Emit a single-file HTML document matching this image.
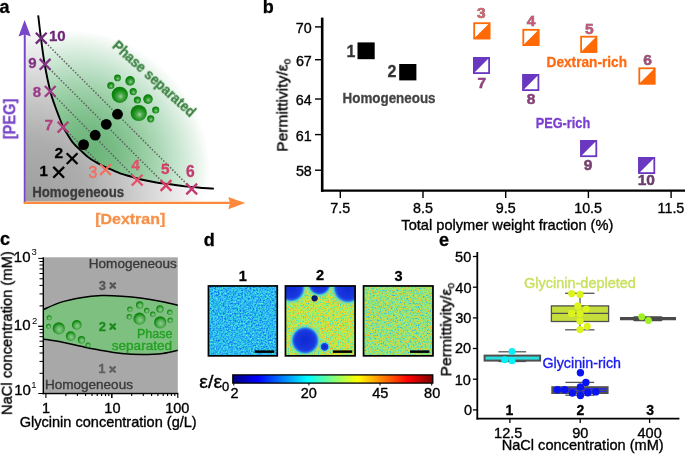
<!DOCTYPE html>
<html><head><meta charset="utf-8"><style>
html,body{margin:0;padding:0;background:#fff;width:685px;height:454px;overflow:hidden}
svg{display:block;font-family:"Liberation Sans", sans-serif}
text{will-change:transform}
</style></head><body>
<svg width="685" height="454" viewBox="0 0 685 454">
<defs>
<radialGradient id="gA" cx="25" cy="203" r="190" gradientUnits="userSpaceOnUse"><stop offset="0" stop-color="#9c9c9c"/><stop offset="0.12" stop-color="#a3a3a3"/><stop offset="0.33" stop-color="#adadad"/><stop offset="0.52" stop-color="#c4c4c4"/><stop offset="0.84" stop-color="#f0f0f0"/><stop offset="0.95" stop-color="#ffffff"/></radialGradient>
<radialGradient id="gG" cx="0" cy="0" r="1" gradientUnits="userSpaceOnUse" gradientTransform="translate(90,150) rotate(-45) scale(110,130)"><stop offset="0" stop-color="#69b478"/><stop offset="0.2" stop-color="#76bb84"/><stop offset="0.3" stop-color="#82c28f"/><stop offset="0.4" stop-color="#8fc99b"/><stop offset="0.5" stop-color="#9ed1a8"/><stop offset="0.6" stop-color="#afd9b9"/><stop offset="0.7" stop-color="#c1e2cb"/><stop offset="0.8" stop-color="#d4ebda"/><stop offset="0.9" stop-color="#e9f4eb"/><stop offset="1" stop-color="#ffffff"/></radialGradient>
<radialGradient id="bub" cx="0.55" cy="0.6" r="0.6" fx="0.55" fy="0.6"><stop offset="0" stop-color="#9ed09e"/><stop offset="0.3" stop-color="#4aa64a"/><stop offset="0.7" stop-color="#108a10"/><stop offset="1" stop-color="#0a7a0a"/></radialGradient>
<radialGradient id="bubc" cx="0.55" cy="0.6" r="0.62" fx="0.55" fy="0.6"><stop offset="0" stop-color="#8ccc8c"/><stop offset="0.45" stop-color="#5ab05a"/><stop offset="0.8" stop-color="#148a14"/><stop offset="1" stop-color="#0a7d0a"/></radialGradient>
<linearGradient id="jet" x1="0" x2="1" y1="0" y2="0"><stop offset="0" stop-color="#00007f"/><stop offset="0.125" stop-color="#0000ff"/><stop offset="0.375" stop-color="#00ffff"/><stop offset="0.625" stop-color="#ffff00"/><stop offset="0.875" stop-color="#ff0000"/><stop offset="1" stop-color="#7f0000"/></linearGradient>
<radialGradient id="blob" cx="0.5" cy="0.5" r="0.5"><stop offset="0" stop-color="#1028d0"/><stop offset="0.7" stop-color="#1838e0"/><stop offset="0.84" stop-color="#2860e8"/><stop offset="0.92" stop-color="#30a8e8" stop-opacity="0.85"/><stop offset="1" stop-color="#40c8e0" stop-opacity="0"/></radialGradient>
<radialGradient id="halo" cx="0.5" cy="0.5" r="0.5"><stop offset="0.6" stop-color="#38c8e8" stop-opacity="0.9"/><stop offset="0.8" stop-color="#50d8d0" stop-opacity="0.6"/><stop offset="1" stop-color="#60e0c0" stop-opacity="0"/></radialGradient>
<clipPath id="clipA"><rect x="25.7" y="5" width="215" height="196.6"/></clipPath>
<clipPath id="clipD2"><rect x="285.5" y="286" width="70" height="70"/></clipPath>
<clipPath id="clipC"><rect x="44" y="257.3" width="133.8" height="135.5"/></clipPath>
<filter id="n1" x="0" y="0" width="1" height="1" color-interpolation-filters="sRGB"><feTurbulence type="fractalNoise" baseFrequency="0.60" numOctaves="2" seed="2" result="n"/><feColorMatrix in="n" type="matrix" values="1 0 0 0 0  1 0 0 0 0  1 0 0 0 0  0 0 0 0 1"/><feComponentTransfer><feFuncR type="linear" slope="1.80" intercept="-0.400"/><feFuncG type="linear" slope="1.80" intercept="-0.400"/><feFuncB type="linear" slope="1.80" intercept="-0.400"/></feComponentTransfer><feComponentTransfer><feFuncR type="table" tableValues="0.059 0.118 0.176 0.235 0.353"/><feFuncG type="table" tableValues="0.431 0.588 0.725 0.843 0.922"/><feFuncB type="table" tableValues="0.941 0.949 0.933 0.894 0.824"/><feFuncA type="table" tableValues="1 1"/></feComponentTransfer></filter>
<filter id="n2" x="0" y="0" width="1" height="1" color-interpolation-filters="sRGB"><feTurbulence type="fractalNoise" baseFrequency="0.60" numOctaves="2" seed="5" result="n"/><feColorMatrix in="n" type="matrix" values="1 0 0 0 0  1 0 0 0 0  1 0 0 0 0  0 0 0 0 1"/><feComponentTransfer><feFuncR type="linear" slope="1.80" intercept="-0.400"/><feFuncG type="linear" slope="1.80" intercept="-0.400"/><feFuncB type="linear" slope="1.80" intercept="-0.400"/></feComponentTransfer><feComponentTransfer><feFuncR type="table" tableValues="0.275 0.471 0.745 0.910 0.922"/><feFuncG type="table" tableValues="0.843 0.922 0.933 0.843 0.627"/><feFuncB type="table" tableValues="0.765 0.549 0.294 0.216 0.176"/><feFuncA type="table" tableValues="1 1"/></feComponentTransfer></filter>
<filter id="n3" x="0" y="0" width="1" height="1" color-interpolation-filters="sRGB"><feTurbulence type="fractalNoise" baseFrequency="0.60" numOctaves="2" seed="7" result="n"/><feColorMatrix in="n" type="matrix" values="1 0 0 0 0  1 0 0 0 0  1 0 0 0 0  0 0 0 0 1"/><feComponentTransfer><feFuncR type="linear" slope="1.80" intercept="-0.400"/><feFuncG type="linear" slope="1.80" intercept="-0.400"/><feFuncB type="linear" slope="1.80" intercept="-0.400"/></feComponentTransfer><feComponentTransfer><feFuncR type="table" tableValues="0.235 0.392 0.588 0.824 0.902"/><feFuncG type="table" tableValues="0.706 0.863 0.910 0.871 0.647"/><feFuncB type="table" tableValues="0.863 0.667 0.463 0.275 0.196"/><feFuncA type="table" tableValues="1 1"/></feComponentTransfer></filter>
</defs>
<g clip-path="url(#clipA)">
<rect x="25" y="5" width="220" height="200" fill="url(#gA)"/>
<path d="M38.20,15.30 C38.63,18.92 39.73,28.88 40.80,37.00 C41.87,45.12 43.03,55.00 44.60,64.00 C46.17,73.00 48.47,84.00 50.20,91.00 C51.93,98.00 53.45,101.50 55.00,106.00 C56.55,110.50 58.17,114.58 59.50,118.00 C60.83,121.42 61.92,124.17 63.00,126.50 C64.08,128.83 64.38,129.35 66.00,132.00 C67.62,134.65 69.97,139.07 72.70,142.40 C75.43,145.73 79.52,149.30 82.40,152.00 C85.28,154.70 87.07,156.52 90.00,158.60 C92.93,160.68 97.00,162.88 100.00,164.50 C103.00,166.12 104.67,166.83 108.00,168.30 C111.33,169.77 116.17,171.92 120.00,173.30 C123.83,174.68 127.67,175.62 131.00,176.60 C134.33,177.58 136.00,178.27 140.00,179.20 C144.00,180.13 150.00,181.35 155.00,182.20 C160.00,183.05 165.00,183.60 170.00,184.30 C175.00,185.00 180.00,185.83 185.00,186.40 C190.00,186.97 195.18,187.33 200.00,187.70 C204.82,188.07 211.58,188.45 213.90,188.60 L240,188.6 L240,0 L38.2,0 Z" fill="url(#gG)"/>
</g>
<line x1="41.2" y1="38.2" x2="191.7" y2="189.0" stroke="#606060" stroke-width="1.5" stroke-dasharray="1.5 1.7"/>
<line x1="45.1" y1="64.3" x2="166.0" y2="185.5" stroke="#606060" stroke-width="1.5" stroke-dasharray="1.5 1.7"/>
<line x1="50.2" y1="91.3" x2="137.2" y2="180.1" stroke="#606060" stroke-width="1.5" stroke-dasharray="1.5 1.7"/>
<line x1="63.0" y1="127.2" x2="105.5" y2="169.6" stroke="#606060" stroke-width="1.5" stroke-dasharray="1.5 1.7"/>
<path d="M38.20,15.30 C38.63,18.92 39.73,28.88 40.80,37.00 C41.87,45.12 43.03,55.00 44.60,64.00 C46.17,73.00 48.47,84.00 50.20,91.00 C51.93,98.00 53.45,101.50 55.00,106.00 C56.55,110.50 58.17,114.58 59.50,118.00 C60.83,121.42 61.92,124.17 63.00,126.50 C64.08,128.83 64.38,129.35 66.00,132.00 C67.62,134.65 69.97,139.07 72.70,142.40 C75.43,145.73 79.52,149.30 82.40,152.00 C85.28,154.70 87.07,156.52 90.00,158.60 C92.93,160.68 97.00,162.88 100.00,164.50 C103.00,166.12 104.67,166.83 108.00,168.30 C111.33,169.77 116.17,171.92 120.00,173.30 C123.83,174.68 127.67,175.62 131.00,176.60 C134.33,177.58 136.00,178.27 140.00,179.20 C144.00,180.13 150.00,181.35 155.00,182.20 C160.00,183.05 165.00,183.60 170.00,184.30 C175.00,185.00 180.00,185.83 185.00,186.40 C190.00,186.97 195.18,187.33 200.00,187.70 C204.82,188.07 211.58,188.45 213.90,188.60" fill="none" stroke="#000" stroke-width="1.9"/>
<circle cx="83.6" cy="144.6" r="5.4" fill="#000"/>
<circle cx="95.2" cy="135.2" r="5.4" fill="#000"/>
<circle cx="106.3" cy="124.3" r="5.4" fill="#000"/>
<circle cx="117.5" cy="114.2" r="5.4" fill="#000"/>
<circle cx="117.5" cy="77.9" r="3.4" fill="url(#bub)"/>
<circle cx="130.1" cy="80.9" r="4.8" fill="url(#bub)"/>
<circle cx="110.8" cy="85.5" r="3.6" fill="url(#bub)"/>
<circle cx="119.8" cy="94.8" r="8.1" fill="url(#bub)"/>
<circle cx="133.2" cy="91.6" r="3.6" fill="url(#bub)"/>
<circle cx="137.4" cy="100.0" r="3.6" fill="url(#bub)"/>
<circle cx="148.0" cy="99.1" r="4.8" fill="url(#bub)"/>
<circle cx="138.7" cy="113.0" r="8.1" fill="url(#bub)"/>
<circle cx="155.7" cy="110.0" r="3.6" fill="url(#bub)"/>
<circle cx="150.7" cy="118.8" r="3.6" fill="url(#bub)"/>
<path d="M35.85,32.80 L46.65,43.60 M35.85,43.60 L46.65,32.80" stroke="#6e2a78" stroke-width="2.3" fill="none"/>
<path d="M39.70,58.90 L50.50,69.70 M39.70,69.70 L50.50,58.90" stroke="#823284" stroke-width="2.3" fill="none"/>
<path d="M44.85,85.95 L55.65,96.75 M44.85,96.75 L55.65,85.95" stroke="#9a3a88" stroke-width="2.3" fill="none"/>
<path d="M57.60,121.80 L68.40,132.60 M57.60,132.60 L68.40,121.80" stroke="#b0407e" stroke-width="2.3" fill="none"/>
<path d="M100.10,164.20 L110.90,175.00 M100.10,175.00 L110.90,164.20" stroke="#f07060" stroke-width="2.3" fill="none"/>
<path d="M131.80,174.70 L142.60,185.50 M131.80,185.50 L142.60,174.70" stroke="#e2506a" stroke-width="2.3" fill="none"/>
<path d="M160.60,180.10 L171.40,190.90 M160.60,190.90 L171.40,180.10" stroke="#d83c66" stroke-width="2.3" fill="none"/>
<path d="M186.30,183.60 L197.10,194.40 M186.30,194.40 L197.10,183.60" stroke="#c23a72" stroke-width="2.3" fill="none"/>
<path d="M53.30,166.90 L64.10,177.70 M53.30,177.70 L64.10,166.90" stroke="#000" stroke-width="2.3" fill="none"/>
<path d="M66.70,153.20 L77.50,164.00 M66.70,164.00 L77.50,153.20" stroke="#000" stroke-width="2.3" fill="none"/>
<line x1="24.75" y1="203" x2="24.75" y2="33" stroke="#7846c8" stroke-width="2"/>
<path d="M24.6,20 L30.8,36.4 L24.7,34.3 L18.5,36.4 Z" fill="#7846c8"/>
<line x1="23.8" y1="202.8" x2="231" y2="202.8" stroke="#ff8a3d" stroke-width="2.2"/>
<path d="M245.2,203 L228.3,196.9 L230,203 L228.3,209.2 Z" fill="#ff8a3d"/>
<line x1="322.2" y1="17.6" x2="322.2" y2="191.8" stroke="#000" stroke-width="2.6"/>
<line x1="321" y1="190.6" x2="685" y2="190.6" stroke="#000" stroke-width="2.4"/>
<line x1="315" y1="26.9" x2="321" y2="26.9" stroke="#000" stroke-width="1.4"/>
<line x1="315" y1="59.7" x2="321" y2="59.7" stroke="#000" stroke-width="1.4"/>
<line x1="315" y1="99.0" x2="321" y2="99.0" stroke="#000" stroke-width="1.4"/>
<line x1="315" y1="134.6" x2="321" y2="134.6" stroke="#000" stroke-width="1.4"/>
<line x1="315" y1="170.2" x2="321" y2="170.2" stroke="#000" stroke-width="1.4"/>
<line x1="340.3" y1="191" x2="340.3" y2="198" stroke="#000" stroke-width="1.4"/>
<line x1="423.0" y1="191" x2="423.0" y2="198" stroke="#000" stroke-width="1.4"/>
<line x1="505.7" y1="191" x2="505.7" y2="198" stroke="#000" stroke-width="1.4"/>
<line x1="588.4" y1="191" x2="588.4" y2="198" stroke="#000" stroke-width="1.4"/>
<line x1="671.1" y1="191" x2="671.1" y2="198" stroke="#000" stroke-width="1.4"/>
<rect x="357.5" y="42.4" width="17.2" height="16.8" fill="#000"/>
<rect x="399.2" y="64" width="17.2" height="16.4" fill="#000"/>
<rect x="474.2" y="23.2" width="15.2" height="15.2" fill="#fff" stroke="#ff6a06" stroke-width="1.8"/><path d="M473.3,39.3 L490.3,22.3 L490.3,39.3 Z" fill="#ff6a06"/>
<rect x="523.3" y="29.8" width="15.2" height="15.2" fill="#fff" stroke="#ff6a06" stroke-width="1.8"/><path d="M522.4,45.9 L539.4,28.9 L539.4,45.9 Z" fill="#ff6a06"/>
<rect x="581.1" y="36.7" width="15.2" height="15.2" fill="#fff" stroke="#ff6a06" stroke-width="1.8"/><path d="M580.2,52.8 L597.2,35.8 L597.2,52.8 Z" fill="#ff6a06"/>
<rect x="639.3" y="68.3" width="15.2" height="15.2" fill="#fff" stroke="#ff6a06" stroke-width="1.8"/><path d="M638.4,84.4 L655.4,67.4 L655.4,84.4 Z" fill="#ff6a06"/>
<rect x="473.9" y="57.9" width="15.2" height="15.2" fill="#fff" stroke="#6a38c0" stroke-width="1.8"/><path d="M473.0,57.0 L490.0,57.0 L473.0,74.0 Z" fill="#6a38c0"/>
<rect x="523.2" y="74.9" width="15.2" height="15.2" fill="#fff" stroke="#6a38c0" stroke-width="1.8"/><path d="M522.3,74.0 L539.3,74.0 L522.3,91.0 Z" fill="#6a38c0"/>
<rect x="581.1" y="141.0" width="15.2" height="15.2" fill="#fff" stroke="#6a38c0" stroke-width="1.8"/><path d="M580.2,140.1 L597.2,140.1 L580.2,157.1 Z" fill="#6a38c0"/>
<rect x="639.1" y="157.9" width="15.2" height="15.2" fill="#fff" stroke="#6a38c0" stroke-width="1.8"/><path d="M638.2,157.0 L655.2,157.0 L638.2,174.0 Z" fill="#6a38c0"/>
<rect x="44" y="257.3" width="133.8" height="135.5" fill="#a8a8a8"/>
<g clip-path="url(#clipC)">
<path d="M43.00,309.80 C45.90,308.57 54.08,304.42 60.40,302.40 C66.72,300.38 74.08,298.83 80.90,297.70 C87.72,296.57 94.50,295.85 101.30,295.60 C108.10,295.35 114.88,295.75 121.70,296.20 C128.52,296.65 135.38,297.37 142.20,298.30 C149.02,299.23 156.47,300.58 162.60,301.80 C168.73,303.02 176.27,304.97 179.00,305.60 L179.00,350.00 C176.27,350.58 168.73,352.75 162.60,353.50 C156.47,354.25 149.02,354.50 142.20,354.50 C135.38,354.50 128.52,354.18 121.70,353.50 C114.88,352.82 108.10,351.60 101.30,350.40 C94.50,349.20 87.72,347.73 80.90,346.30 C74.08,344.87 66.72,343.02 60.40,341.80 C54.08,340.58 45.90,339.47 43.00,339.00 Z" fill="#7ec07f"/>
<path d="M43.00,309.80 C45.90,308.57 54.08,304.42 60.40,302.40 C66.72,300.38 74.08,298.83 80.90,297.70 C87.72,296.57 94.50,295.85 101.30,295.60 C108.10,295.35 114.88,295.75 121.70,296.20 C128.52,296.65 135.38,297.37 142.20,298.30 C149.02,299.23 156.47,300.58 162.60,301.80 C168.73,303.02 176.27,304.97 179.00,305.60" fill="none" stroke="#000" stroke-width="1.5"/>
<path d="M179.00,350.00 C176.27,350.58 168.73,352.75 162.60,353.50 C156.47,354.25 149.02,354.50 142.20,354.50 C135.38,354.50 128.52,354.18 121.70,353.50 C114.88,352.82 108.10,351.60 101.30,350.40 C94.50,349.20 87.72,347.73 80.90,346.30 C74.08,344.87 66.72,343.02 60.40,341.80 C54.08,340.58 45.90,339.47 43.00,339.00" fill="none" stroke="#000" stroke-width="1.5"/>
</g>
<circle cx="49.2" cy="317.7" r="2.5" fill="url(#bubc)"/>
<circle cx="48.6" cy="326.3" r="2.5" fill="url(#bubc)"/>
<circle cx="58.8" cy="328.3" r="6.1" fill="url(#bubc)"/>
<circle cx="76.8" cy="324.9" r="4.9" fill="url(#bubc)"/>
<circle cx="70.7" cy="336.1" r="4.9" fill="url(#bubc)"/>
<circle cx="81.5" cy="339.8" r="3.7" fill="url(#bubc)"/>
<circle cx="88.0" cy="344.9" r="2.5" fill="url(#bubc)"/>
<circle cx="139.7" cy="305.0" r="3.7" fill="url(#bubc)"/>
<circle cx="129.9" cy="309.1" r="2.7" fill="url(#bubc)"/>
<circle cx="146.7" cy="310.5" r="2.7" fill="url(#bubc)"/>
<circle cx="160.0" cy="308.9" r="3.7" fill="url(#bubc)"/>
<circle cx="169.8" cy="312.2" r="2.7" fill="url(#bubc)"/>
<circle cx="152.8" cy="314.2" r="2.7" fill="url(#bubc)"/>
<circle cx="129.3" cy="316.7" r="2.7" fill="url(#bubc)"/>
<circle cx="139.5" cy="318.7" r="6.1" fill="url(#bubc)"/>
<circle cx="160.2" cy="322.4" r="6.1" fill="url(#bubc)"/>
<circle cx="170.2" cy="320.2" r="2.7" fill="url(#bubc)"/>
<line x1="43.3" y1="257.3" x2="43.3" y2="394.3" stroke="#000" stroke-width="1.4"/>
<line x1="42.6" y1="393.5" x2="178.3" y2="393.5" stroke="#000" stroke-width="1.6"/>
<line x1="38.3" y1="393.5" x2="43.3" y2="393.5" stroke="#000" stroke-width="1"/>
<line x1="39.5" y1="373.3" x2="43.3" y2="373.3" stroke="#000" stroke-width="1"/>
<line x1="39.5" y1="361.4" x2="43.3" y2="361.4" stroke="#000" stroke-width="1"/>
<line x1="39.5" y1="353.0" x2="43.3" y2="353.0" stroke="#000" stroke-width="1"/>
<line x1="39.5" y1="346.5" x2="43.3" y2="346.5" stroke="#000" stroke-width="1"/>
<line x1="39.5" y1="341.2" x2="43.3" y2="341.2" stroke="#000" stroke-width="1"/>
<line x1="39.5" y1="336.7" x2="43.3" y2="336.7" stroke="#000" stroke-width="1"/>
<line x1="39.5" y1="332.8" x2="43.3" y2="332.8" stroke="#000" stroke-width="1"/>
<line x1="39.5" y1="329.4" x2="43.3" y2="329.4" stroke="#000" stroke-width="1"/>
<line x1="38.3" y1="326.3" x2="43.3" y2="326.3" stroke="#000" stroke-width="1"/>
<line x1="38.3" y1="326.3" x2="43.3" y2="326.3" stroke="#000" stroke-width="1"/>
<line x1="39.5" y1="305.9" x2="43.3" y2="305.9" stroke="#000" stroke-width="1"/>
<line x1="39.5" y1="293.9" x2="43.3" y2="293.9" stroke="#000" stroke-width="1"/>
<line x1="39.5" y1="285.4" x2="43.3" y2="285.4" stroke="#000" stroke-width="1"/>
<line x1="39.5" y1="278.8" x2="43.3" y2="278.8" stroke="#000" stroke-width="1"/>
<line x1="39.5" y1="273.5" x2="43.3" y2="273.5" stroke="#000" stroke-width="1"/>
<line x1="39.5" y1="268.9" x2="43.3" y2="268.9" stroke="#000" stroke-width="1"/>
<line x1="39.5" y1="265.0" x2="43.3" y2="265.0" stroke="#000" stroke-width="1"/>
<line x1="39.5" y1="261.5" x2="43.3" y2="261.5" stroke="#000" stroke-width="1"/>
<line x1="38.3" y1="258.4" x2="43.3" y2="258.4" stroke="#000" stroke-width="1"/>
<line x1="45.9" y1="393.5" x2="45.9" y2="398.0" stroke="#000" stroke-width="1.1"/>
<line x1="65.8" y1="393.5" x2="65.8" y2="396.1" stroke="#000" stroke-width="1.1"/>
<line x1="77.4" y1="393.5" x2="77.4" y2="396.1" stroke="#000" stroke-width="1.1"/>
<line x1="85.6" y1="393.5" x2="85.6" y2="396.1" stroke="#000" stroke-width="1.1"/>
<line x1="92.0" y1="393.5" x2="92.0" y2="396.1" stroke="#000" stroke-width="1.1"/>
<line x1="97.2" y1="393.5" x2="97.2" y2="396.1" stroke="#000" stroke-width="1.1"/>
<line x1="101.6" y1="393.5" x2="101.6" y2="396.1" stroke="#000" stroke-width="1.1"/>
<line x1="105.5" y1="393.5" x2="105.5" y2="396.1" stroke="#000" stroke-width="1.1"/>
<line x1="108.8" y1="393.5" x2="108.8" y2="396.1" stroke="#000" stroke-width="1.1"/>
<line x1="111.8" y1="393.5" x2="111.8" y2="398.0" stroke="#000" stroke-width="1.1"/>
<line x1="111.8" y1="393.5" x2="111.8" y2="398.0" stroke="#000" stroke-width="1.1"/>
<line x1="131.7" y1="393.5" x2="131.7" y2="396.1" stroke="#000" stroke-width="1.1"/>
<line x1="143.3" y1="393.5" x2="143.3" y2="396.1" stroke="#000" stroke-width="1.1"/>
<line x1="151.6" y1="393.5" x2="151.6" y2="396.1" stroke="#000" stroke-width="1.1"/>
<line x1="157.9" y1="393.5" x2="157.9" y2="396.1" stroke="#000" stroke-width="1.1"/>
<line x1="163.2" y1="393.5" x2="163.2" y2="396.1" stroke="#000" stroke-width="1.1"/>
<line x1="167.6" y1="393.5" x2="167.6" y2="396.1" stroke="#000" stroke-width="1.1"/>
<line x1="171.4" y1="393.5" x2="171.4" y2="396.1" stroke="#000" stroke-width="1.1"/>
<line x1="174.8" y1="393.5" x2="174.8" y2="396.1" stroke="#000" stroke-width="1.1"/>
<line x1="177.8" y1="393.5" x2="177.8" y2="398.0" stroke="#000" stroke-width="1.1"/>
<path d="M110.5,283.2 L115.0,287.8 M110.5,287.8 L115.0,283.2" stroke="#555" stroke-width="2.3" stroke-linecap="round"/>
<path d="M110.5,324.3 L115.0,328.9 M110.5,328.9 L115.0,324.3" stroke="#1a8a1a" stroke-width="2.3" stroke-linecap="round"/>
<path d="M110.3,367.1 L114.9,371.7 M110.3,371.7 L114.9,367.1" stroke="#606060" stroke-width="2.3" stroke-linecap="round"/>
<rect x="208.3" y="286" width="69.2" height="70" filter="url(#n1)"/>
<rect x="285.5" y="286" width="70" height="70" filter="url(#n2)"/>
<rect x="363.4" y="286" width="70" height="70" filter="url(#n3)"/>
<g clip-path="url(#clipD2)">
<circle cx="291.0" cy="288.0" r="17.0" fill="url(#halo)"/>
<circle cx="319.4" cy="283.9" r="14.5" fill="url(#halo)"/>
<circle cx="348.0" cy="288.2" r="18.0" fill="url(#halo)"/>
<circle cx="305.2" cy="340.4" r="17.0" fill="url(#halo)"/>
<circle cx="324.6" cy="346.8" r="6.1" fill="url(#halo)"/>
<circle cx="291.0" cy="288.0" r="14.0" fill="url(#blob)"/>
<circle cx="319.4" cy="283.9" r="11.5" fill="url(#blob)"/>
<circle cx="348.0" cy="288.2" r="15.0" fill="url(#blob)"/>
<circle cx="305.2" cy="340.4" r="14.0" fill="url(#blob)"/>
<circle cx="324.6" cy="346.8" r="4.3" fill="url(#blob)"/>
<circle cx="314.6" cy="298.3" r="3.1" fill="#0a1870"/>
</g>
<rect x="208.45" y="285.95" width="68.80" height="69.90" fill="none" stroke="#000" stroke-width="1.7"/>
<rect x="285.45" y="285.95" width="69.60" height="69.90" fill="none" stroke="#000" stroke-width="1.7"/>
<rect x="363.55" y="285.95" width="69.40" height="69.90" fill="none" stroke="#000" stroke-width="1.7"/>
<rect x="254.7" y="350.4" width="19.5" height="2.5" fill="#000"/>
<rect x="332.9" y="350.4" width="19.3" height="2.5" fill="#000"/>
<rect x="410.0" y="350.4" width="19.4" height="2.5" fill="#000"/>
<rect x="232.8" y="374.9" width="200" height="8.2" fill="url(#jet)" stroke="#000" stroke-width="1.3"/>
<line x1="233.8" y1="383" x2="233.8" y2="385.5" stroke="#000" stroke-width="1"/>
<line x1="308.9" y1="383" x2="308.9" y2="385.5" stroke="#000" stroke-width="1"/>
<line x1="380.0" y1="383" x2="380.0" y2="385.5" stroke="#000" stroke-width="1"/>
<line x1="431.7" y1="383" x2="431.7" y2="385.5" stroke="#000" stroke-width="1"/>
<line x1="477.3" y1="252" x2="477.3" y2="419.5" stroke="#000" stroke-width="1.8"/>
<line x1="476.5" y1="418.7" x2="679.4" y2="418.7" stroke="#000" stroke-width="1.8"/>
<line x1="472.9" y1="409.9" x2="477" y2="409.9" stroke="#000" stroke-width="1.3"/>
<line x1="472.9" y1="379.2" x2="477" y2="379.2" stroke="#000" stroke-width="1.3"/>
<line x1="472.9" y1="348.5" x2="477" y2="348.5" stroke="#000" stroke-width="1.3"/>
<line x1="472.9" y1="317.9" x2="477" y2="317.9" stroke="#000" stroke-width="1.3"/>
<line x1="472.9" y1="287.2" x2="477" y2="287.2" stroke="#000" stroke-width="1.3"/>
<line x1="472.9" y1="256.5" x2="477" y2="256.5" stroke="#000" stroke-width="1.3"/>
<line x1="509.9" y1="419" x2="509.9" y2="423" stroke="#000" stroke-width="1.3"/>
<line x1="580.2" y1="419" x2="580.2" y2="423" stroke="#000" stroke-width="1.3"/>
<line x1="649.6" y1="419" x2="649.6" y2="423" stroke="#000" stroke-width="1.3"/>
<line x1="498.4" y1="351.8" x2="526.1" y2="351.8" stroke="#555" stroke-width="1.3"/>
<line x1="498.4" y1="361.5" x2="526.1" y2="361.5" stroke="#555" stroke-width="1.3"/>
<rect x="484.6" y="355.6" width="55.5" height="5" fill="#28e0e0" stroke="#505050" stroke-width="2"/>
<circle cx="512.0" cy="351.4" r="3.5" fill="#08f0f8"/>
<circle cx="504.7" cy="359.7" r="3.5" fill="#08f0f8"/>
<circle cx="512.0" cy="360.7" r="3.5" fill="#08f0f8"/>
<line x1="565.1" y1="293.3" x2="594.5" y2="293.3" stroke="#555" stroke-width="1.3"/>
<line x1="565.1" y1="329.8" x2="594.5" y2="329.8" stroke="#555" stroke-width="1.3"/>
<line x1="580" y1="293.3" x2="580" y2="329.8" stroke="#555" stroke-width="1.3"/>
<rect x="551.4" y="305.9" width="57.2" height="15.6" fill="#c6de3c" stroke="#505050" stroke-width="1.3"/>
<line x1="551.4" y1="313.4" x2="608.6" y2="313.4" stroke="#505050" stroke-width="1.3"/>
<circle cx="571.7" cy="293.6" r="3.6" fill="#dcf41c"/>
<circle cx="580.0" cy="294.4" r="3.6" fill="#dcf41c"/>
<circle cx="577.8" cy="305.9" r="3.6" fill="#dcf41c"/>
<circle cx="586.3" cy="309.0" r="3.6" fill="#dcf41c"/>
<circle cx="571.7" cy="313.4" r="3.6" fill="#dcf41c"/>
<circle cx="580.0" cy="313.4" r="3.6" fill="#dcf41c"/>
<circle cx="580.0" cy="321.1" r="3.6" fill="#dcf41c"/>
<circle cx="587.2" cy="326.3" r="3.6" fill="#dcf41c"/>
<circle cx="580.0" cy="329.6" r="3.6" fill="#dcf41c"/>
<line x1="620" y1="318.7" x2="676" y2="318.7" stroke="#4a4a4a" stroke-width="3.2"/>
<rect x="633.3" y="316.2" width="29" height="5" rx="1" fill="#4a4a4a"/>
<circle cx="641.7" cy="316.7" r="3.5" fill="#a0f028"/>
<circle cx="648.4" cy="320.6" r="3.5" fill="#a0f028"/>
<line x1="565.4" y1="382.4" x2="594.2" y2="382.4" stroke="#555" stroke-width="1.3"/>
<line x1="565.4" y1="395.2" x2="594.2" y2="395.2" stroke="#555" stroke-width="1.3"/>
<rect x="552.3" y="387.2" width="55.3" height="5.8" fill="#2a2ae0" stroke="#505050" stroke-width="2"/>
<line x1="552.3" y1="390.3" x2="607.6" y2="390.3" stroke="#505050" stroke-width="1.2"/>
<circle cx="580.4" cy="372.8" r="3.7" fill="#0a14f0"/>
<circle cx="585.9" cy="382.4" r="3.7" fill="#0a14f0"/>
<circle cx="580.4" cy="387.0" r="3.7" fill="#0a14f0"/>
<circle cx="557.4" cy="389.8" r="3.7" fill="#0a14f0"/>
<circle cx="564.7" cy="389.8" r="3.7" fill="#0a14f0"/>
<circle cx="572.4" cy="393.1" r="3.7" fill="#0a14f0"/>
<circle cx="580.4" cy="395.5" r="3.7" fill="#0a14f0"/>
<circle cx="587.8" cy="392.8" r="3.7" fill="#0a14f0"/>
<circle cx="595.8" cy="391.9" r="3.7" fill="#0a14f0"/>
<text x="-0.40" y="12.90" font-size="18.00" fill="#000" font-weight="bold" text-anchor="start" stroke="#000" stroke-width="0.3">a</text>
<text x="48.95" y="41.10" font-size="15.00" fill="#6e2a78" font-weight="bold" text-anchor="start" stroke="#6e2a78" stroke-width="0.3">10</text>
<text x="28.19" y="67.62" font-size="15.00" fill="#823284" font-weight="bold" text-anchor="start" stroke="#823284" stroke-width="0.3">9</text>
<text x="32.82" y="96.90" font-size="15.00" fill="#9a3a88" font-weight="bold" text-anchor="start" stroke="#9a3a88" stroke-width="0.3">8</text>
<text x="44.51" y="130.20" font-size="15.50" fill="#b0407e" font-weight="bold" text-anchor="start" stroke="#b0407e" stroke-width="0.3">7</text>
<text x="88.49" y="178.20" font-size="15.80" fill="#f07060" font-weight="normal" text-anchor="start" stroke="#f07060" stroke-width="0.50" paint-order="stroke">3</text>
<text x="131.14" y="170.20" font-size="15.50" fill="#e2506a" font-weight="bold" text-anchor="start" stroke="#e2506a" stroke-width="0.3">4</text>
<text x="161.03" y="174.25" font-size="15.30" fill="#d83c66" font-weight="bold" text-anchor="start" stroke="#d83c66" stroke-width="0.3">5</text>
<text x="185.92" y="177.04" font-size="15.60" fill="#c23a72" font-weight="bold" text-anchor="start" stroke="#c23a72" stroke-width="0.3">6</text>
<text x="54.56" y="158.48" font-size="15.50" fill="#000" font-weight="bold" text-anchor="start" stroke="#000" stroke-width="0.3">2</text>
<text x="39.46" y="175.70" font-size="15.00" fill="#000" font-weight="bold" text-anchor="start" stroke="#000" stroke-width="0.3">1</text>
<text x="32.15" y="196.64" font-size="14.00" fill="#3c3c3c" font-weight="bold" text-anchor="start" textLength="92.00" lengthAdjust="spacingAndGlyphs" stroke="#3c3c3c" stroke-width="0.3">Homogeneous</text>
<text x="95.21" y="223.50" font-size="14.70" fill="#f7914a" font-weight="bold" text-anchor="start" textLength="70.00" lengthAdjust="spacingAndGlyphs" stroke="#f7914a" stroke-width="0.3">[Dextran]</text>
<text transform="translate(15.20,139.16) rotate(-90.00)" font-size="15.60" fill="#7846c8" font-weight="bold" text-anchor="start" textLength="40.50" lengthAdjust="spacingAndGlyphs" stroke="#7846c8" stroke-width="0.3">[PEG]</text>
<text transform="translate(111.54,47.00) rotate(42.00)" font-size="15.00" fill="#38803f" font-weight="bold" text-anchor="start" textLength="106.00" lengthAdjust="spacingAndGlyphs" stroke="#38803f" stroke-width="0.3">Phase separated</text>
<text x="262.81" y="12.52" font-size="18.00" fill="#000" font-weight="bold" text-anchor="start" stroke="#000" stroke-width="0.3">b</text>
<text x="311.73" y="32.94" font-size="14.30" fill="#000" font-weight="normal" text-anchor="end" stroke="#000" stroke-width="0.35">70</text>
<text x="311.80" y="65.54" font-size="14.30" fill="#000" font-weight="normal" text-anchor="end" stroke="#000" stroke-width="0.35">67</text>
<text x="311.66" y="104.60" font-size="14.30" fill="#000" font-weight="normal" text-anchor="end" stroke="#000" stroke-width="0.35">64</text>
<text x="311.75" y="140.74" font-size="14.30" fill="#000" font-weight="normal" text-anchor="end" stroke="#000" stroke-width="0.35">61</text>
<text x="311.79" y="176.15" font-size="14.30" fill="#000" font-weight="normal" text-anchor="end" stroke="#000" stroke-width="0.35">58</text>
<text x="340.26" y="213.40" font-size="14.30" fill="#000" font-weight="normal" text-anchor="middle" stroke="#000" stroke-width="0.35">7.5</text>
<text x="423.06" y="212.52" font-size="14.30" fill="#000" font-weight="normal" text-anchor="middle" stroke="#000" stroke-width="0.35">8.5</text>
<text x="505.70" y="213.40" font-size="14.30" fill="#000" font-weight="normal" text-anchor="middle" stroke="#000" stroke-width="0.35">9.5</text>
<text x="588.13" y="213.40" font-size="14.30" fill="#000" font-weight="normal" text-anchor="middle" stroke="#000" stroke-width="0.35">10.5</text>
<text x="670.94" y="213.40" font-size="14.30" fill="#000" font-weight="normal" text-anchor="middle" stroke="#000" stroke-width="0.35">11.5</text>
<text x="401.36" y="229.63" font-size="14.30" fill="#000" font-weight="normal" text-anchor="start" textLength="212.00" lengthAdjust="spacingAndGlyphs" stroke="#000" stroke-width="0.35">Total polymer weight fraction (%)</text>
<text transform="translate(287.43,151.78) rotate(-90.00)" font-size="15.00" fill="#000" font-weight="normal" text-anchor="start" textLength="93.00" lengthAdjust="spacingAndGlyphs" stroke="#000" stroke-width="0.35">Permittivity/ε<tspan font-size="9.5" dy="3">0</tspan></text>
<text x="346.38" y="57.40" font-size="16.00" fill="#333" font-weight="bold" text-anchor="start" stroke="#333" stroke-width="0.3">1</text>
<text x="387.47" y="77.33" font-size="16.00" fill="#333" font-weight="bold" text-anchor="start" stroke="#333" stroke-width="0.3">2</text>
<text x="342.56" y="102.54" font-size="14.00" fill="#444" font-weight="bold" text-anchor="start" textLength="93.00" lengthAdjust="spacingAndGlyphs" stroke="#444" stroke-width="0.3">Homogeneous</text>
<text x="481.41" y="18.47" font-size="15.50" fill="#d2646e" font-weight="bold" text-anchor="middle" stroke="#5a4a55" stroke-width="0.50" paint-order="stroke">3</text>
<text x="531.16" y="26.10" font-size="15.50" fill="#c85a78" font-weight="bold" text-anchor="middle" stroke="#5a4a55" stroke-width="0.50" paint-order="stroke">4</text>
<text x="589.36" y="33.62" font-size="15.50" fill="#c45478" font-weight="bold" text-anchor="middle" stroke="#5a4a55" stroke-width="0.50" paint-order="stroke">5</text>
<text x="647.62" y="64.56" font-size="15.50" fill="#a44c7a" font-weight="bold" text-anchor="middle" stroke="#5a4a55" stroke-width="0.50" paint-order="stroke">6</text>
<text x="481.84" y="88.10" font-size="15.50" fill="#9a3c80" font-weight="bold" text-anchor="middle" stroke="#5a4a55" stroke-width="0.50" paint-order="stroke">7</text>
<text x="530.98" y="103.79" font-size="15.50" fill="#8a3c7c" font-weight="bold" text-anchor="middle" stroke="#5a4a55" stroke-width="0.50" paint-order="stroke">8</text>
<text x="587.97" y="170.23" font-size="15.50" fill="#7a3c72" font-weight="bold" text-anchor="middle" stroke="#5a4a55" stroke-width="0.50" paint-order="stroke">9</text>
<text x="646.37" y="185.00" font-size="15.50" fill="#6e3c6e" font-weight="bold" text-anchor="middle" stroke="#5a4a55" stroke-width="0.50" paint-order="stroke">10</text>
<text x="546.52" y="67.30" font-size="15.50" fill="#ff6a10" font-weight="bold" text-anchor="start" textLength="80.50" lengthAdjust="spacingAndGlyphs" stroke="#ff6a10" stroke-width="0.3">Dextran-rich</text>
<text x="535.72" y="128.00" font-size="15.00" fill="#7a3fd0" font-weight="bold" text-anchor="start" textLength="54.50" lengthAdjust="spacingAndGlyphs" stroke="#7a3fd0" stroke-width="0.3">PEG-rich</text>
<text x="-0.12" y="245.46" font-size="18.00" fill="#000" font-weight="bold" text-anchor="start" stroke="#000" stroke-width="0.3">c</text>
<text x="13.86" y="262.40" font-size="15.00" fill="#000" font-weight="normal" text-anchor="start" stroke="#000" stroke-width="0.35">10</text>
<text x="31.57" y="254.90" font-size="9.50" fill="#000" font-weight="normal" text-anchor="start">3</text>
<text x="13.86" y="329.60" font-size="15.00" fill="#000" font-weight="normal" text-anchor="start" stroke="#000" stroke-width="0.35">10</text>
<text x="31.88" y="323.76" font-size="9.50" fill="#000" font-weight="normal" text-anchor="start">2</text>
<text x="14.14" y="394.60" font-size="15.00" fill="#000" font-weight="normal" text-anchor="start" stroke="#000" stroke-width="0.35">10</text>
<text x="31.14" y="388.08" font-size="9.50" fill="#000" font-weight="normal" text-anchor="start">1</text>
<text x="46.06" y="412.80" font-size="14.50" fill="#000" font-weight="normal" text-anchor="middle" stroke="#000" stroke-width="0.35">1</text>
<text x="112.42" y="412.98" font-size="14.50" fill="#000" font-weight="normal" text-anchor="middle" stroke="#000" stroke-width="0.35">10</text>
<text x="177.28" y="413.00" font-size="14.50" fill="#000" font-weight="normal" text-anchor="middle" stroke="#000" stroke-width="0.35">100</text>
<text x="19.70" y="426.53" font-size="14.50" fill="#000" font-weight="normal" text-anchor="start" textLength="177.00" lengthAdjust="spacingAndGlyphs" stroke="#000" stroke-width="0.35">Glycinin concentration (g/L)</text>
<text transform="translate(11.82,415.14) rotate(-90.00)" font-size="14.80" fill="#000" font-weight="normal" text-anchor="start" textLength="164.00" lengthAdjust="spacingAndGlyphs" stroke="#000" stroke-width="0.35">NaCl concentration (mM)</text>
<text x="88.84" y="268.10" font-size="12.50" fill="#3a3a3a" font-weight="normal" text-anchor="start" textLength="88.00" lengthAdjust="spacingAndGlyphs" stroke="#3a3a3a" stroke-width="0.35">Homogeneous</text>
<text x="44.95" y="388.98" font-size="12.50" fill="#3a3a3a" font-weight="normal" text-anchor="start" textLength="88.00" lengthAdjust="spacingAndGlyphs" stroke="#3a3a3a" stroke-width="0.35">Homogeneous</text>
<text x="98.80" y="290.10" font-size="13.00" fill="#555" font-weight="bold" text-anchor="start" stroke="#555" stroke-width="0.3">3</text>
<text x="98.76" y="331.38" font-size="13.00" fill="#1a8a1a" font-weight="bold" text-anchor="start" stroke="#1a8a1a" stroke-width="0.3">2</text>
<text x="98.14" y="373.20" font-size="13.00" fill="#606060" font-weight="bold" text-anchor="start" stroke="#606060" stroke-width="0.3">1</text>
<text x="172.36" y="338.20" font-size="12.50" fill="#22a022" font-weight="normal" text-anchor="end" stroke="#22a022" stroke-width="0.35">Phase</text>
<text x="172.16" y="350.17" font-size="12.50" fill="#22a022" font-weight="normal" text-anchor="end" textLength="60.50" lengthAdjust="spacingAndGlyphs" stroke="#22a022" stroke-width="0.35">separated</text>
<text x="203.72" y="246.00" font-size="18.00" fill="#000" font-weight="bold" text-anchor="start" stroke="#000" stroke-width="0.3">d</text>
<text x="242.90" y="281.30" font-size="14.50" fill="#000" font-weight="bold" text-anchor="middle" stroke="#000" stroke-width="0.3">1</text>
<text x="319.94" y="280.28" font-size="14.50" fill="#000" font-weight="bold" text-anchor="middle" stroke="#000" stroke-width="0.3">2</text>
<text x="398.58" y="280.56" font-size="14.50" fill="#000" font-weight="bold" text-anchor="middle" stroke="#000" stroke-width="0.3">3</text>
<text x="234.48" y="398.18" font-size="14.50" fill="#000" font-weight="normal" text-anchor="middle" stroke="#000" stroke-width="0.35">2</text>
<text x="308.72" y="398.18" font-size="14.50" fill="#000" font-weight="normal" text-anchor="middle" stroke="#000" stroke-width="0.35">20</text>
<text x="380.28" y="398.36" font-size="14.50" fill="#000" font-weight="normal" text-anchor="middle" stroke="#000" stroke-width="0.35">45</text>
<text x="432.18" y="398.48" font-size="14.50" fill="#000" font-weight="normal" text-anchor="middle" stroke="#000" stroke-width="0.35">80</text>
<text x="199.36" y="387.86" font-size="18.00" fill="#000" font-weight="normal" text-anchor="start" textLength="30.00" lengthAdjust="spacingAndGlyphs" stroke="#000" stroke-width="0.35">ε/ε<tspan font-size="12" dy="3">0</tspan></text>
<text x="438.94" y="246.46" font-size="18.00" fill="#000" font-weight="bold" text-anchor="start" stroke="#000" stroke-width="0.3">e</text>
<text x="472.03" y="414.90" font-size="14.50" fill="#000" font-weight="normal" text-anchor="end" stroke="#000" stroke-width="0.35">0</text>
<text x="470.84" y="385.06" font-size="14.50" fill="#000" font-weight="normal" text-anchor="end" stroke="#000" stroke-width="0.35">10</text>
<text x="471.13" y="353.44" font-size="14.50" fill="#000" font-weight="normal" text-anchor="end" stroke="#000" stroke-width="0.35">20</text>
<text x="471.32" y="323.13" font-size="14.50" fill="#000" font-weight="normal" text-anchor="end" stroke="#000" stroke-width="0.35">30</text>
<text x="471.51" y="292.50" font-size="14.50" fill="#000" font-weight="normal" text-anchor="end" stroke="#000" stroke-width="0.35">40</text>
<text x="471.26" y="262.13" font-size="14.50" fill="#000" font-weight="normal" text-anchor="end" stroke="#000" stroke-width="0.35">50</text>
<text x="508.24" y="437.90" font-size="14.50" fill="#000" font-weight="normal" text-anchor="middle" stroke="#000" stroke-width="0.35">12.5</text>
<text x="580.36" y="437.78" font-size="14.50" fill="#000" font-weight="normal" text-anchor="middle" stroke="#000" stroke-width="0.35">90</text>
<text x="649.66" y="437.90" font-size="14.50" fill="#000" font-weight="normal" text-anchor="middle" stroke="#000" stroke-width="0.35">400</text>
<text x="501.66" y="450.48" font-size="14.50" fill="#000" font-weight="normal" text-anchor="start" textLength="162.00" lengthAdjust="spacingAndGlyphs" stroke="#000" stroke-width="0.35">NaCl concentration (mM)</text>
<text transform="translate(451.20,376.52) rotate(-90.00)" font-size="15.00" fill="#000" font-weight="normal" text-anchor="start" textLength="93.50" lengthAdjust="spacingAndGlyphs" stroke="#000" stroke-width="0.35">Permittivity/ε<tspan font-size="9.5" dy="3">0</tspan></text>
<text x="509.35" y="414.70" font-size="14.00" fill="#000" font-weight="bold" text-anchor="middle" stroke="#000" stroke-width="0.3">1</text>
<text x="580.37" y="414.77" font-size="14.00" fill="#000" font-weight="bold" text-anchor="middle" stroke="#000" stroke-width="0.3">2</text>
<text x="650.24" y="414.60" font-size="14.00" fill="#000" font-weight="bold" text-anchor="middle" stroke="#000" stroke-width="0.3">3</text>
<text x="523.94" y="287.68" font-size="14.60" fill="#c8e060" font-weight="normal" text-anchor="start" textLength="112.00" lengthAdjust="spacingAndGlyphs" stroke="#c8e060" stroke-width="0.35">Glycinin-depleted</text>
<text x="542.46" y="367.84" font-size="14.60" fill="#1a1af0" font-weight="normal" text-anchor="start" textLength="78.50" lengthAdjust="spacingAndGlyphs" stroke="#1a1af0" stroke-width="0.35">Glycinin-rich</text>
</svg>
</body></html>
